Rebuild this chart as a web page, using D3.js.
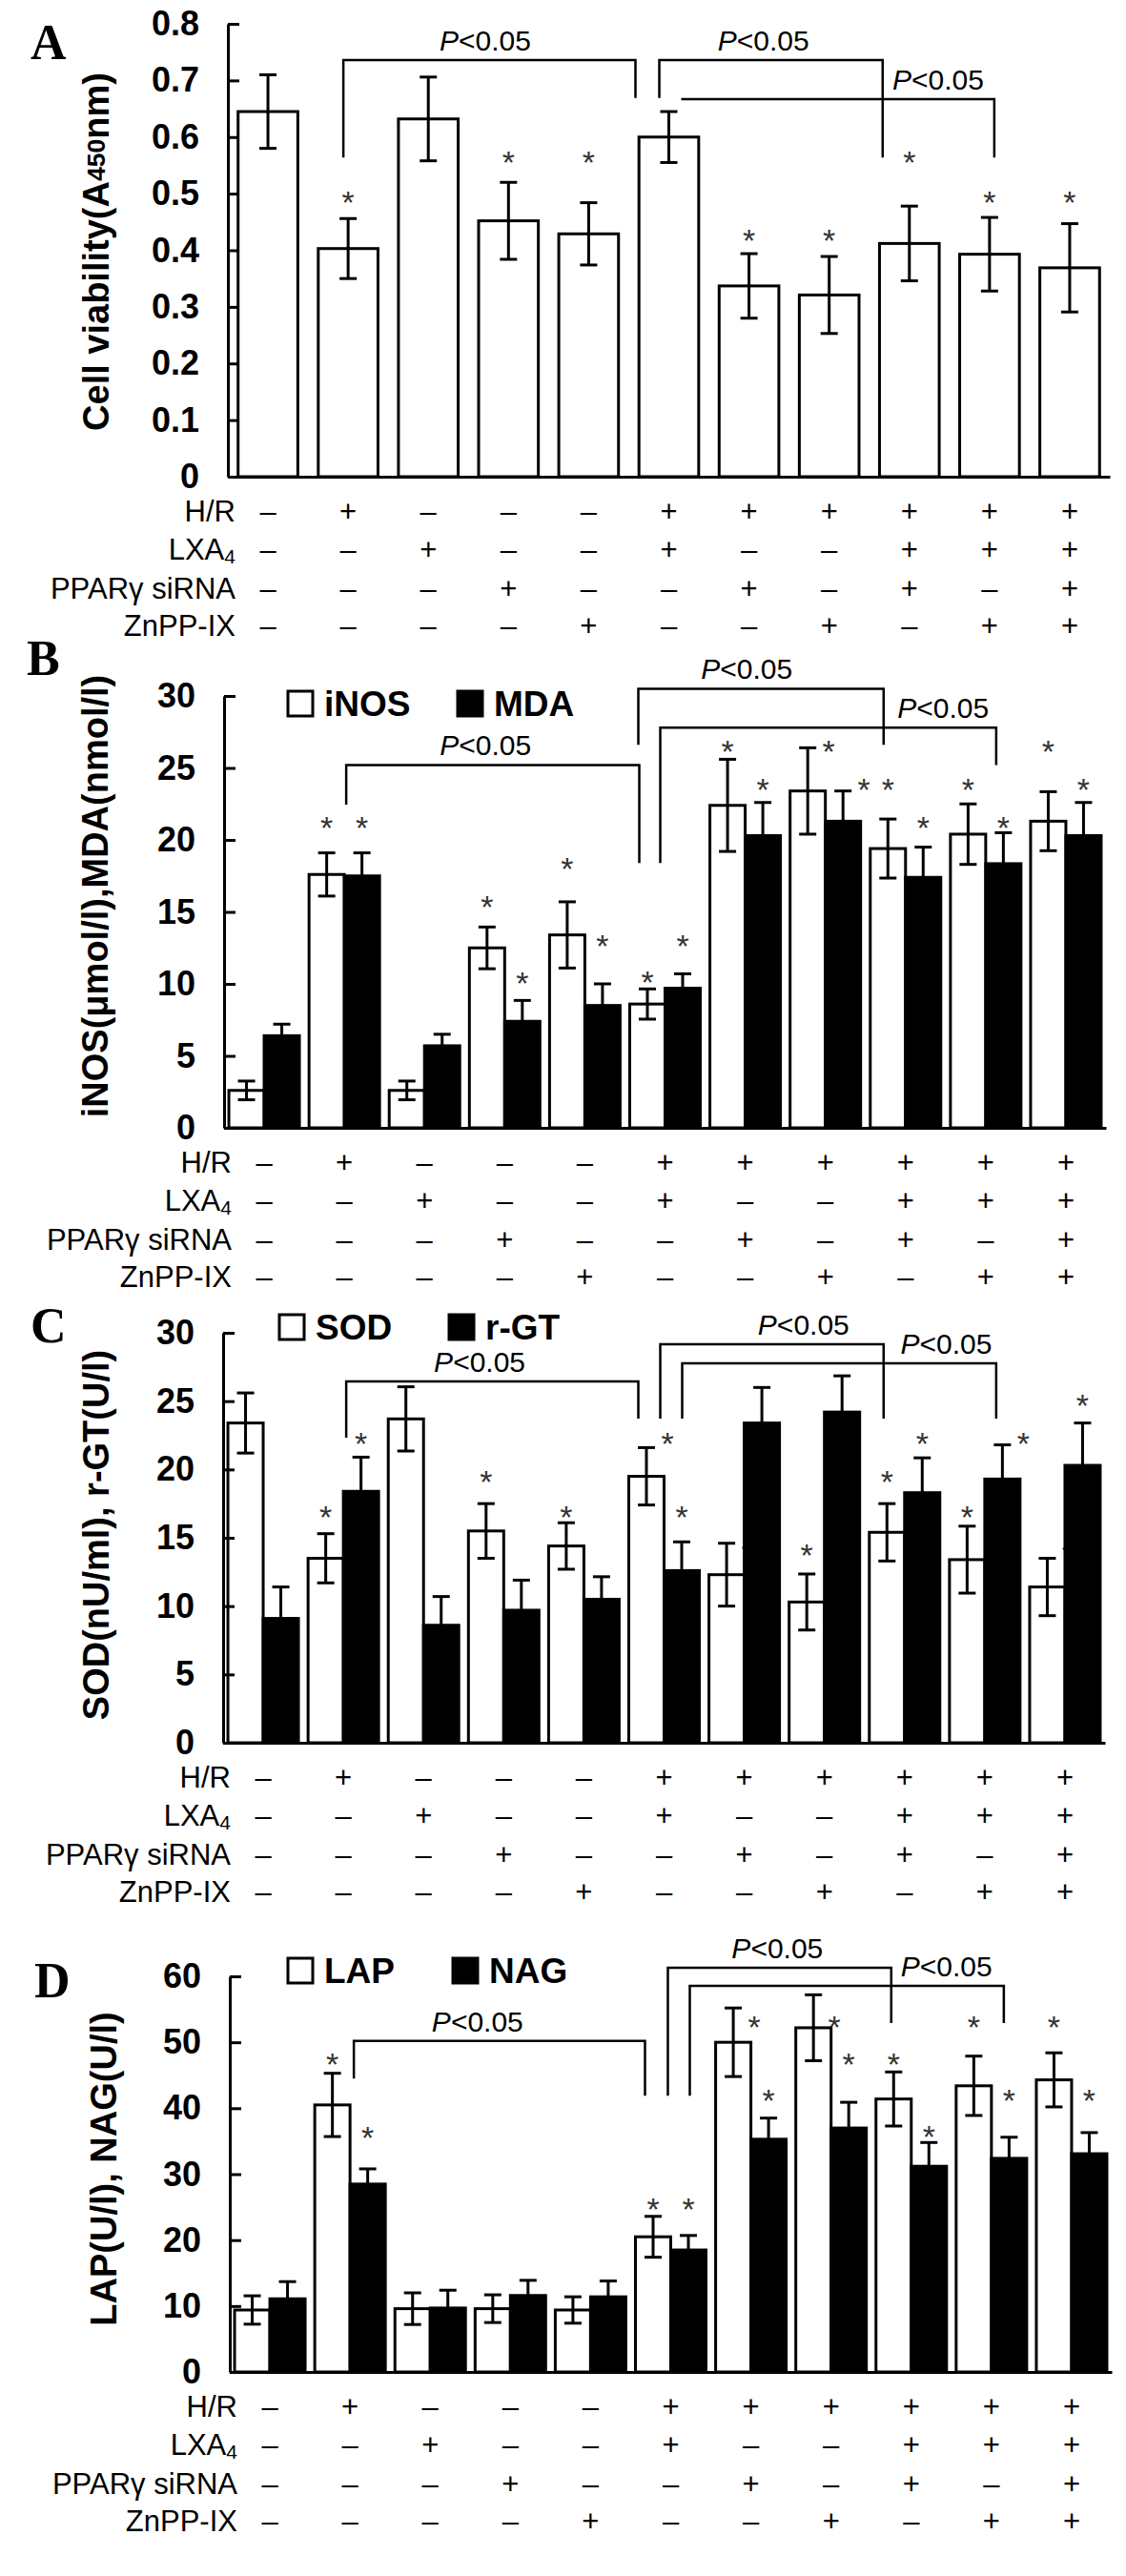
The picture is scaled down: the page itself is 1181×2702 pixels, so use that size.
<!DOCTYPE html>
<html>
<head>
<meta charset="utf-8">
<script src="https://cdn.jsdelivr.net/npm/d3@7"></script>
<style>
  body { margin: 0; background: #fff; }
</style>
</head>
<body>
<div id="vis"></div>
<script>
// ---- data ----
const groups = d3.range(11);
const rowNames = ["H/R", "LXA4", "PPARγ siRNA", "ZnPP-IX"];
const hr    = [0, 1, 0, 0, 0, 1, 1, 1, 1, 1, 1];
const lxa4  = [0, 0, 1, 0, 0, 1, 0, 0, 1, 1, 1];
const sirna = [0, 0, 0, 1, 0, 0, 1, 0, 1, 0, 1];
const znpp  = [0, 0, 0, 0, 1, 0, 0, 1, 0, 1, 1];

const ticksA = [0, 0.1, 0.2, 0.3, 0.4, 0.5, 0.6, 0.7, 0.8];
const ticksBC = [0, 5, 10, 15, 20, 25, 30];
const ticksD = [0, 10, 20, 30, 40, 50, 60];

// A: cell viability
const viability     = [0.645, 0.403, 0.632, 0.452, 0.429, 0.600, 0.337, 0.321, 0.412, 0.393, 0.369];
const viabilityErr  = [0.065, 0.053, 0.074, 0.068, 0.055, 0.045, 0.057, 0.068, 0.066, 0.065, 0.078];
const viabilityStar = [null, 0.497, null, 0.567, 0.567, null, 0.429, 0.429, 0.567, 0.497, 0.497];

// B: iNOS / MDA
const iNOS     = [2.6, 17.6, 2.6, 12.5, 13.4, 8.6, 22.4, 23.4, 19.4, 20.4, 21.3];
const iNOSErr  = [0.65, 1.5, 0.65, 1.45, 2.3, 1.05, 3.2, 3.0, 2.05, 2.1, 2.05];
const iNOSStar = [null, 21.3, null, 15.8, 18.5, 10.6, 26.6, 26.6, 24.0, 24.0, 26.6];
const MDA      = [6.4, 17.5, 5.7, 7.4, 8.5, 9.7, 20.3, 21.3, 17.4, 18.35, 20.3];
const MDAErr   = [0.8, 1.6, 0.8, 1.45, 1.5, 1.0, 2.3, 2.1, 2.1, 2.15, 2.3];
const MDAStar  = [null, 21.3, null, 10.5, 13.1, 13.1, 24.0, 24.0, 21.3, 21.3, 24.0];

// C: SOD / r-GT
const SOD     = [23.4, 13.5, 23.7, 15.5, 14.4, 19.5, 12.3, 10.3, 15.4, 13.4, 11.4];
const SODErr  = [2.2, 1.8, 2.35, 2.0, 1.7, 2.1, 2.3, 2.05, 2.1, 2.45, 2.1];
const SODStar = [null, 17.0, null, 19.6, 17.0, 22.4, 14.3, 14.2, 19.6, 17.0, 14.2];
const rGT     = [9.1, 18.4, 8.6, 9.7, 10.5, 12.6, 23.4, 24.2, 18.3, 19.3, 20.3];
const rGTErr  = [2.3, 2.5, 2.1, 2.2, 1.65, 2.1, 2.6, 2.65, 2.55, 2.5, 3.1];
const rGTStar = [null, 22.4, null, null, null, 17.0, null, null, 22.4, 22.4, 25.2];

// D: LAP / NAG
const LAP     = [9.4, 40.5, 9.6, 9.6, 9.4, 20.5, 50.0, 52.2, 41.4, 43.4, 44.3];
const LAPErr  = [2.15, 4.8, 2.4, 2.1, 2.0, 3.1, 5.2, 5.0, 4.1, 4.5, 4.1];
const LAPStar = [null, 47.7, null, null, null, 25.7, 53.3, 53.3, 47.7, 53.3, 53.3];
const NAG     = [11.1, 28.5, 9.7, 11.6, 11.4, 18.5, 35.3, 37.0, 31.2, 32.4, 33.1];
const NAGErr  = [2.6, 2.3, 2.7, 2.3, 2.4, 2.2, 3.2, 3.9, 3.6, 3.2, 3.2];
const NAGStar = [null, 36.6, null, null, null, 25.7, 42.2, 47.7, 36.7, 42.2, 42.2];

// significance brackets: group indices, leg ends and top in data units
const bracketsA = [
  { from: 1, to: 5, dxFrom: -5, dxTo: -35, top: 0.736, yFrom: 0.564, yTo: 0.669, labelAt: 3.21 },
  { from: 5, to: 8, dxFrom: -10, dxTo: -28, top: 0.736, yFrom: 0.669, yTo: 0.564, labelAt: 6.68 },
  { from: 5, to: 9, dxFrom: 13, dxTo: 5, top: 0.667, yFrom: 0.667, yTo: 0.564, labelAt: 8.86 }
];
const bracketsB = [
  { from: 1, to: 5, dxFrom: 2, dxTo: -27, top: 25.2, yFrom: 22.45, yTo: 18.4, labelAt: 3.26 },
  { from: 5, to: 8, dxFrom: -28, dxTo: -23, top: 30.5, yFrom: 26.6, yTo: 26.6, labelAt: 6.52 },
  { from: 5, to: 9, dxFrom: -5, dxTo: 11, top: 27.8, yFrom: 18.4, yTo: 25.2, labelAt: 8.97 }
];
const bracketsC = [
  { from: 1, to: 5, dxFrom: 3, dxTo: -27, top: 26.44, yFrom: 22.33, yTo: 23.72, labelAt: 3.2 },
  { from: 5, to: 8, dxFrom: -4, dxTo: -22, top: 29.16, yFrom: 23.72, yTo: 23.72, labelAt: 7.24 },
  { from: 5, to: 9, dxFrom: 19, dxTo: 12, top: 27.77, yFrom: 23.72, yTo: 23.72, labelAt: 9.02 }
];
const bracketsD = [
  { from: 1, to: 5, dxFrom: 4, dxTo: -27, top: 50.2, yFrom: 44.5, yTo: 41.9, labelAt: 3.09 },
  { from: 5, to: 8, dxFrom: -3, dxTo: -21, top: 61.3, yFrom: 41.9, yTo: 52.9, labelAt: 6.83 },
  { from: 5, to: 9, dxFrom: 20, dxTo: 13, top: 58.55, yFrom: 41.9, yTo: 52.9, labelAt: 8.94 }
];

// ---- drawing ----
const W = 1181, H = 2702, PLOT_W = 925;
const SANS = "'Liberation Sans', Arial, sans-serif";
const SERIF = "'Liberation Serif', 'Times New Roman', serif";

const svg = d3.select("#vis")
  .append("svg")
  .attr("width", W)
  .attr("height", H)
  .attr("viewBox", `0 0 ${W} ${H}`);

function drawPanel(p) {
  const g = svg.append("g");
  const x = d3.scaleBand().domain(groups)
    .range([p.x0, p.x0 + PLOT_W])
    .paddingInner(p.pad).paddingOuter(p.pad / 2);
  const y = d3.scaleLinear().domain([0, p.max]).range([p.y0, p.yTop]);
  const sub = d3.scaleBand().domain(d3.range(p.series.length)).range([0, x.bandwidth()]);
  const cx = (i, s) => x(i) + sub(s) + sub.bandwidth() / 2;

  // bars
  p.series.forEach((s, si) => {
    g.append("g").selectAll("rect")
      .data(s.values)
      .join("rect")
      .attr("x", (d, i) => x(i) + sub(si))
      .attr("width", sub.bandwidth())
      .attr("y", d => y(d))
      .attr("height", d => p.y0 - y(d))
      .attr("fill", s.fill)
      .attr("stroke", "#000")
      .attr("stroke-width", 3);

    // error bars
    const eb = g.append("g").attr("stroke", "#000").attr("stroke-width", 3);
    s.values.forEach((v, i) => {
      const e = s.err[i], c = cx(i, si);
      eb.append("line").attr("x1", c).attr("x2", c).attr("y1", y(v - e)).attr("y2", y(v + e));
      eb.append("line").attr("x1", c - 9).attr("x2", c + 9).attr("y1", y(v + e)).attr("y2", y(v + e));
      eb.append("line").attr("x1", c - 9).attr("x2", c + 9).attr("y1", y(v - e)).attr("y2", y(v - e));
    });

    // significance stars
    s.stars.forEach((v, i) => {
      if (v == null) return;
      const capY = y(s.values[i] + s.err[i]);
      const shift = (capY - y(v) < 12) ? 22 : 0;
      g.append("text")
        .attr("x", cx(i, si) + shift)
        .attr("y", y(v) + 19)
        .attr("text-anchor", "middle")
        .attr("font-family", SANS)
        .attr("font-size", 34)
        .attr("fill", "#333")
        .text("*");
    });
  });

  // x baseline
  const xa = g.append("g")
    .attr("transform", `translate(0,${p.y0})`)
    .call(d3.axisBottom(x).tickSize(0).tickSizeOuter(0).tickFormat(() => ""));
  xa.select(".domain").attr("stroke-width", 3);

  // y axis, ticks pointing inward
  const ya = g.append("g")
    .attr("transform", `translate(${p.x0},0)`)
    .call(d3.axisLeft(y).tickValues(p.ticks).tickFormat(p.fmt)
      .tickSizeInner(-12).tickSizeOuter(0).tickPadding(30));
  ya.select(".domain").attr("stroke-width", 3);
  ya.selectAll(".tick line").attr("stroke-width", 3);
  ya.selectAll(".tick text")
    .attr("font-family", SANS)
    .attr("font-size", 36)
    .attr("font-weight", "bold")
    .attr("fill", "#000");

  // brackets
  const step = x.step();
  p.brackets.forEach(b => {
    const xa1 = x(b.from) + x.bandwidth() / 2 + b.dxFrom;
    const xb1 = x(b.to) + x.bandwidth() / 2 + b.dxTo;
    g.append("path")
      .attr("d", `M${xa1},${y(b.yFrom)}V${y(b.top)}H${xb1}V${y(b.yTo)}`)
      .attr("fill", "none")
      .attr("stroke", "#000")
      .attr("stroke-width", 2.5);
    const t = g.append("text")
      .attr("x", p.x0 + step * b.labelAt)
      .attr("y", y(b.top) - 10)
      .attr("text-anchor", "middle")
      .attr("font-family", SANS)
      .attr("font-size", 30);
    t.append("tspan").attr("font-style", "italic").text("P");
    t.append("tspan").text("<0.05");
  });

  // treatment rows
  const rows = [hr, lxa4, sirna, znpp];
  const rowDy = [36, 76, 117, 156];
  rows.forEach((r, ri) => {
    const ry = p.y0 + rowDy[ri];
    const lbl = g.append("text")
      .attr("x", p.x0 + 8)
      .attr("y", ry)
      .attr("text-anchor", "end")
      .attr("dominant-baseline", "central")
      .attr("font-family", SANS)
      .attr("font-size", 31);
    if (rowNames[ri] === "LXA4") {
      lbl.append("tspan").text("LXA");
      lbl.append("tspan").attr("font-size", 21).attr("dy", "0.35em").text("4");
    } else {
      lbl.text(rowNames[ri]);
    }
    g.append("g").selectAll("text")
      .data(r)
      .join("text")
      .attr("x", (d, i) => x(i) + x.bandwidth() / 2)
      .attr("y", ry)
      .attr("text-anchor", "middle")
      .attr("dominant-baseline", "central")
      .attr("font-family", SANS)
      .attr("font-size", 31)
      .text(d => d ? "+" : "–");
  });

  // y label
  const yl = g.append("text")
    .attr("transform", `translate(${p.ylx},${p.yly}) rotate(-90)`)
    .attr("text-anchor", "middle")
    .attr("dominant-baseline", "central")
    .attr("font-family", SANS)
    .attr("font-size", p.ylSize)
    .attr("font-weight", "bold");
  p.ylabel.forEach(part => {
    const ts = yl.append("tspan").text(part.t);
    if (part.small) ts.attr("font-size", p.ylSize * 0.7);
  });

  // legend
  if (p.legend) {
    p.legend.forEach(l => {
      g.append("rect")
        .attr("x", l.x).attr("y", p.legendY - 26)
        .attr("width", 26).attr("height", 26)
        .attr("fill", l.fill).attr("stroke", "#000").attr("stroke-width", 3);
      g.append("text")
        .attr("x", l.x + 38).attr("y", p.legendY)
        .attr("font-family", SANS)
        .attr("font-size", 37)
        .attr("font-weight", "bold")
        .text(l.name);
    });
  }

  // panel letter
  g.append("text")
    .attr("x", p.letterX).attr("y", p.letterY)
    .attr("font-family", SERIF)
    .attr("font-size", 52)
    .attr("font-weight", "bold")
    .text(p.letter);
}

drawPanel({
  letter: "A", letterX: 32, letterY: 62,
  x0: 239, y0: 500, yTop: 25, max: 0.8, pad: 0.255,
  ticks: ticksA, fmt: d => d === 0 ? "0" : d3.format(".1f")(d),
  series: [{ values: viability, err: viabilityErr, stars: viabilityStar, fill: "#fff" }],
  brackets: bracketsA,
  ylx: 101, yly: 264, ylSize: 38,
  ylabel: [{ t: "Cell viability(A" }, { t: "450", small: true }, { t: "nm)" }]
});

drawPanel({
  letter: "B", letterX: 28, letterY: 708,
  x0: 235, y0: 1183, yTop: 730, max: 30, pad: 0.12,
  ticks: ticksBC, fmt: d3.format("d"),
  series: [
    { values: iNOS, err: iNOSErr, stars: iNOSStar, fill: "#fff" },
    { values: MDA, err: MDAErr, stars: MDAStar, fill: "#000" }
  ],
  brackets: bracketsB,
  legendY: 751,
  legend: [{ name: "iNOS", fill: "#fff", x: 302 }, { name: "MDA", fill: "#000", x: 480 }],
  ylx: 100, yly: 940, ylSize: 38,
  ylabel: [{ t: "iNOS(μmol/l),MDA(nmol/l)" }]
});

drawPanel({
  letter: "C", letterX: 32, letterY: 1408,
  x0: 234, y0: 1828, yTop: 1398, max: 30, pad: 0.12,
  ticks: ticksBC, fmt: d3.format("d"),
  series: [
    { values: SOD, err: SODErr, stars: SODStar, fill: "#fff" },
    { values: rGT, err: rGTErr, stars: rGTStar, fill: "#000" }
  ],
  brackets: bracketsC,
  legendY: 1405,
  legend: [{ name: "SOD", fill: "#fff", x: 293 }, { name: "r-GT", fill: "#000", x: 471 }],
  ylx: 101, yly: 1610, ylSize: 38,
  ylabel: [{ t: "SOD(nU/ml), r-GT(U/l)" }]
});

drawPanel({
  letter: "D", letterX: 36, letterY: 2095,
  x0: 241, y0: 2488, yTop: 2073, max: 60, pad: 0.12,
  ticks: ticksD, fmt: d3.format("d"),
  series: [
    { values: LAP, err: LAPErr, stars: LAPStar, fill: "#fff" },
    { values: NAG, err: NAGErr, stars: NAGStar, fill: "#000" }
  ],
  brackets: bracketsD,
  legendY: 2080,
  legend: [{ name: "LAP", fill: "#fff", x: 302 }, { name: "NAG", fill: "#000", x: 475 }],
  ylx: 109, yly: 2275, ylSize: 38,
  ylabel: [{ t: "LAP(U/l), NAG(U/l)" }]
});
</script>
</body>
</html>
